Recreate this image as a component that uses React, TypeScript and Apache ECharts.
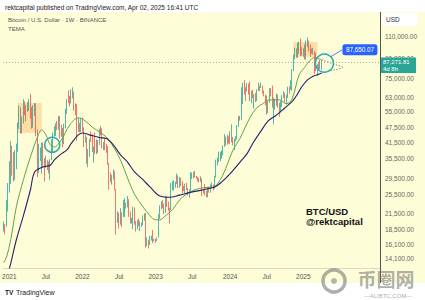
import React, { useEffect, useRef } from 'react';
import * as echarts from 'echarts';

// ---------- data ----------
const START_DATE = '2020-11-30'; // first weekly candle (Monday)
const TOTAL_WEEKS = 268; // weeks shown on the time scale (incl. empty future space)
const FIRST_OPEN = 18185;

const closes = [
  19370, 19150, 23780, 26280, 33000, 38150, 35830, 32260, 34260, 39250,
  48580, 57410, 45240, 50970, 59020, 57350, 55820, 59770, 60000, 56150,
  49070, 56620, 58240, 46420, 34660, 35650, 35800, 39100, 35500, 34700,
  35290, 34250, 31780, 35400, 39850, 44420, 47050, 49320, 48830, 49950,
  48300, 47260, 43170, 48200, 54960, 61530, 61310, 61300, 64950, 65500,
  59720, 57270, 49400, 50100, 46700, 50800, 47290, 41860, 43080, 36280,
  38470, 42410, 42200, 38360, 39110, 38730, 37780, 41260, 46830, 46410,
  40380, 40380, 39450, 37630, 34280, 30080, 29440, 29450, 29860, 26570,
  20570, 21030, 19300, 20830, 20780, 22580, 23300, 23170, 24310, 21530,
  19560, 19830, 21830, 19420, 18800, 19310, 19070, 19070, 19570, 20630,
  20910, 16330, 16700, 16460, 17100, 17100, 16780, 16840, 16620, 17130,
  20880, 22700, 23750, 23320, 21860, 24640, 23560, 22160, 22140, 27950,
  27980, 28170, 28320, 30300, 27590, 29230, 28850, 26910, 26750, 28080,
  27120, 25870, 26340, 30460, 30590, 30170, 30230, 29860, 29230, 29050,
  29300, 26100, 26010, 25840, 25830, 26530, 26250, 27920, 27930, 26850,
  29990, 34530, 35010, 37060, 37360, 37450, 39970, 43790, 41370, 42990,
  42280, 41730, 41740, 41580, 42030, 42990, 48300, 52140, 51730, 68330,
  68960, 68390, 67210, 69650, 69360, 63900, 64940, 63120, 63890, 61480,
  66940, 68510, 67760, 69650, 66200, 64250, 62680, 55860, 60800, 68250,
  68240, 58160, 58710, 58970, 64220, 57300, 54870, 59130, 63580, 65600,
  62820, 62850, 69030, 68020, 68780, 80370, 89850, 97900, 97190, 101110,
  104460, 95190, 93720, 98360, 94500, 104250, 104710, 97690, 96460, 96120,
  96260, 94270, 80730, 82570, 86080, 82390, 87270,
];
const highs = [
  19915, 19420, 24300, 28400, 34800, 41950, 40100, 37850, 38530, 40950,
  49700, 58350, 57530, 52640, 61790, 60600, 58400, 60200, 61950, 64850,
  57500, 58450, 59600, 59500, 46660, 40900, 39480, 41300, 41400, 35750,
  36600, 35100, 34700, 35400, 42600, 45310, 48150, 49380, 50500, 52920,
  52850, 48850, 47360, 49260, 56560, 62000, 67000, 63730, 67790, 69000,
  66300, 59400, 59060, 51950, 49500, 51900, 52090, 47570, 44460, 43510,
  38920, 42650, 45860, 44770, 39850, 45400, 42600, 42330, 47000, 48190,
  47200, 41560, 42980, 40800, 40020, 34250, 31330, 30650, 32220, 31700,
  26880, 21870, 21530, 22500, 21660, 24280, 24670, 23650, 25210, 24450,
  21820, 20570, 22800, 22670, 19960, 20190, 20480, 19950, 19700, 21090,
  21480, 21470, 17190, 16810, 17420, 17440, 18390, 16960, 16960, 17180,
  21260, 23080, 23960, 24250, 23460, 25250, 25130, 23890, 22600, 28390,
  28870, 29180, 28780, 31000, 30480, 30040, 29800, 28870, 27660, 28250,
  28450, 27130, 26800, 31430, 31280, 31500, 31800, 30330, 30050, 29750,
  30250, 29690, 26830, 28140, 26430, 27480, 27480, 28050, 28580, 28000,
  30400, 35280, 35980, 37980, 37980, 38420, 40250, 44700, 43730, 44400,
  43800, 45900, 48970, 43560, 42840, 43880, 48590, 52820, 52980, 69000,
  72000, 73780, 68950, 71770, 71340, 72800, 66870, 67230, 64730, 65490,
  67700, 71980, 70000, 71990, 70200, 66950, 64500, 63860, 61000, 68370,
  68500, 70080, 62730, 61820, 65050, 64480, 59810, 60670, 64130, 66500,
  65550, 64480, 69400, 69520, 73620, 81500, 93270, 99590, 98870, 104090,
  105250, 108350, 99960, 99000, 102730, 106420, 109590, 106460, 102500, 98830,
  99480, 96500, 95000, 85310, 87450, 88770, 88500,
];
const lows = [
  18110, 17650, 19000, 21800, 26000, 28130, 30420, 28850, 29240, 32300,
  37990, 47000, 44890, 45000, 49300, 53270, 50310, 54950, 55470, 51540,
  47000, 47460, 52900, 43830, 30000, 31200, 34800, 31000, 33340, 28800,
  32700, 32080, 31020, 29280, 35200, 37640, 43700, 43950, 46370, 46500,
  42840, 43600, 39600, 40750, 47100, 53880, 59560, 57820, 59400, 62280,
  55600, 53260, 42000, 45560, 45500, 45560, 45680, 39650, 41240, 34000,
  32920, 36250, 41650, 37860, 34320, 37160, 37150, 37550, 40470, 44200,
  39200, 38540, 38540, 37580, 33710, 26700, 28630, 28020, 29300, 26560,
  17620, 19640, 18630, 19300, 18910, 20760, 20710, 22410, 22660, 20760,
  19520, 19520, 18540, 19320, 18130, 18470, 19050, 18190, 18920, 19240,
  20040, 15590, 15820, 15480, 16000, 16680, 16260, 16560, 16330, 16600,
  17150, 20410, 22290, 22540, 21350, 21530, 22760, 21970, 19550, 22100,
  26600, 26520, 27200, 28170, 27130, 27210, 27660, 25810, 26380, 25870,
  26600, 25350, 24800, 26250, 29500, 29700, 29950, 29550, 28860, 28580,
  28700, 25170, 25800, 25330, 24900, 24900, 26010, 25990, 27160, 26540,
  26960, 29880, 33390, 34520, 34800, 35630, 36700, 39740, 40200, 40550,
  40990, 40750, 41500, 40280, 38560, 41870, 42550, 47720, 50600, 50900,
  59000, 64540, 60760, 66410, 64490, 60660, 59600, 62390, 56550, 60190,
  60750, 66600, 66620, 68500, 65080, 63380, 58400, 53500, 54260, 59900,
  63450, 57120, 49000, 56080, 58200, 57200, 52550, 54560, 57500, 62650,
  59830, 58950, 62450, 65060, 67480, 66830, 80220, 89380, 90790, 90500,
  94150, 92170, 92510, 91530, 89260, 89130, 100100, 96150, 91230, 94090,
  93390, 78260, 80000, 76600, 81140, 81600, 81280,
];

// price-axis tick labels
const yTicks = [14100, 16100, 18500, 21500, 25500, 29500, 35500, 41500, 47500, 55000, 63000, 75000, 90000, 110000];
const Y_MIN = 12930;
const Y_MAX = 138600;

// TEMA lines: [week index, price]
const fastLine = [
  [0, 13600], [2, 14300], [5, 16800], [9, 22800], [14, 29300], [19, 36200], [24, 43500], [27, 46500],
  [30, 44400], [33, 40500], [36, 39700], [41, 42400], [47, 48700], [53, 52000], [57, 51000],
  [63, 47700], [68, 45600], [73, 43500], [78, 39700], [83, 35200], [88, 29800], [93, 25600],
  [99, 22800], [104, 21000], [108, 20200], [111, 20200], [115, 21000], [120, 22200], [125, 24300],
  [130, 25600], [136, 26700], [142, 27200], [149, 27400], [154, 29300], [159, 33800], [163, 38600],
  [168, 43000], [175, 52000], [180, 57100], [184, 59200], [189, 61400], [196, 61400], [201, 59200],
  [205, 62000], [210, 77400], [214, 83000], [218, 88900], [221, 90800], [226, 88900],
];
const slowLine = [
  [3, 12300], [5, 13500], [9, 16800], [14, 21000], [19, 26700], [22, 31500], [28, 33000], [33, 33500],
  [36, 35200], [40, 36900], [45, 38600], [48, 41000], [53, 44400], [56, 45200], [61, 44400],
  [68, 43300], [73, 42900], [78, 40400], [83, 36900], [88, 34500], [93, 31500], [99, 29300],
  [104, 27400], [111, 25200], [118, 24900], [125, 25400], [132, 26000], [142, 26700], [150, 27400],
  [155, 28700], [161, 31000], [168, 34500], [173, 37300], [177, 41000], [182, 45200], [188, 50500],
  [193, 52900], [198, 55800], [203, 59000], [206, 61400], [209, 65000], [212, 69500], [216, 73900],
  [220, 76500], [223, 77500], [226, 78800],
];
const fastProjection = [[226, 88900], [241, 83300]];
const slowProjection = [[226, 78800], [241, 82500]];

// annotations: [startWeek, topPrice, endWeek, bottomPrice]
const highlightBoxes = [
  [10, 59700, 27, 45200],
  [206, 104900, 223, 91500],
];
// circles: [week, price, radius px]
const circles = [
  [34.5, 40500, 7.5],
  [228, 86300, 9],
];
const LAST_PRICE = 87271.81;
const COUNTDOWN = '4d 8h';
const CALLOUT_TEXT = '87,650.07';
const LAST_INDEX = closes.length - 1;

// ---------- helpers ----------
const FONT = 'Liberation Sans, Arial, sans-serif';
const lg = (p: number) => Math.log10(p);
const fmtPrice = (p: number) =>
  p.toLocaleString('en-US', { minimumFractionDigits: 2, maximumFractionDigits: 2 });

const weekDate = (i: number) => {
  const d = new Date(START_DATE + 'T00:00:00Z');
  d.setUTCDate(d.getUTCDate() + 7 * i);
  return d;
};
const categories = Array.from({ length: TOTAL_WEEKS }, (_, i) => weekDate(i).toISOString().slice(0, 10));

const labelFor = (i: number) => {
  if (i > LAST_INDEX) return '';
  const d = weekDate(i);
  for (let k = 0; k < 7; k++) {
    const dd = new Date(d.getTime() + k * 86400000);
    if (dd.getUTCDate() === 1 && dd.getUTCMonth() === 0) return String(dd.getUTCFullYear());
    if (dd.getUTCDate() === 1 && dd.getUTCMonth() === 6) return 'Jul';
  }
  return '';
};

export default function App() {
  const ref = useRef<HTMLDivElement>(null);

  useEffect(() => {
    const el = ref.current;
    if (!el) return;
    const chart = echarts.init(el, null, { renderer: 'svg' });

    const candleData = closes.map((c, i) => {
      const o = i === 0 ? FIRST_OPEN : closes[i - 1];
      return [lg(o), lg(c), lg(lows[i]), lg(highs[i])];
    });

    const option: any = {
      animation: false,
      backgroundColor: 'transparent',
      grid: { left: 3, right: 45, top: 12, bottom: 32, containLabel: false, outerBoundsMode: 'none' },
      xAxis: {
        type: 'category',
        data: categories,
        boundaryGap: true,
        axisLine: { show: true, lineStyle: { color: '#d9d9c6', width: 1 } },
        axisTick: { show: false },
        splitLine: { show: false },
        axisLabel: {
          interval: (index: number) => labelFor(index) !== '',
          formatter: (_v: string, index: number) => labelFor(index),
          fontSize: 6.5,
          color: '#555',
          fontFamily: FONT,
          margin: 5,
          hideOverlap: false,
        },
      },
      yAxis: {
        type: 'value',
        position: 'right',
        min: lg(Y_MIN),
        max: lg(Y_MAX),
        scale: true,
        axisLine: { show: false },
        axisTick: { show: false },
        splitLine: { show: false },
        axisLabel: {
          customValues: yTicks.map(lg),
          formatter: (v: number) => fmtPrice(Math.round(Math.pow(10, v))),
          fontSize: 6.5,
          color: '#666',
          fontFamily: FONT,
          margin: 5,
        },
      },
      series: [
        {
          type: 'candlestick',
          data: candleData,
          barWidth: 1,
          itemStyle: {
            color: '#26a69a',
            color0: '#ef5350',
            borderColor: '#26a69a',
            borderColor0: '#ef5350',
            borderWidth: 0.8,
          },
          markLine: {
            silent: true,
            symbol: ['none', 'none'],
            label: { show: false },
            lineStyle: { color: '#9a9a9a', type: [1, 2], width: 0.8 },
            data: [{ yAxis: lg(LAST_PRICE) }],
          },
          markArea: {
            silent: true,
            itemStyle: { color: 'rgba(248,186,104,0.45)' },
            data: highlightBoxes.map(([x1, p1, x2, p2]) => [
              { xAxis: x1, yAxis: lg(p1) },
              { xAxis: x2, yAxis: lg(p2) },
            ]),
          },
          z: 2,
        },
        {
          type: 'line',
          data: fastLine.map(([i, p]) => [i, lg(p)]),
          showSymbol: false,
          smooth: 0.35,
          lineStyle: { color: '#62a34b', width: 1 },
          z: 3,
        },
        {
          type: 'line',
          data: slowLine.map(([i, p]) => [i, lg(p)]),
          showSymbol: false,
          smooth: 0.35,
          lineStyle: { color: '#2b1d6e', width: 1.1 },
          z: 3,
        },
        {
          type: 'line',
          data: fastProjection.map(([i, p]) => [i, lg(p)]),
          showSymbol: false,
          lineStyle: { color: '#8a8a8a', width: 1, type: [1.5, 1.5] },
          z: 3,
        },
        {
          type: 'line',
          data: slowProjection.map(([i, p]) => [i, lg(p)]),
          showSymbol: false,
          lineStyle: { color: '#8a8a8a', width: 1, type: [1.5, 1.5] },
          z: 3,
        },
      ],
    };
    chart.setOption(option);

    const toPx = (i: number, price: number) => {
      const i0 = Math.floor(i);
      const f = i - i0;
      const a = chart.convertToPixel({ gridIndex: 0 }, [i0, lg(price)]) as number[];
      if (f === 0) return a;
      const b = chart.convertToPixel({ gridIndex: 0 }, [i0 + 1, lg(price)]) as number[];
      return [a[0] + (b[0] - a[0]) * f, a[1]];
    };

    const g: any[] = [];
    const txt = (text: string, x: number, y: number, size: number, fill: string, extra: any = {}) => ({
      type: 'text',
      x,
      y,
      z: 100,
      style: { text, fill, fontSize: size, fontFamily: FONT, verticalAlign: 'middle', align: 'left', ...extra },
    });

    // header & legend
    g.push(txt('rektcapital published on TradingView.com, Apr 02, 2025 16:41 UTC', 5, 7, 6.5, '#222'));
    g.push(txt('Bitcoin / U.S. Dollar · 1W · BINANCE', 8, 20, 6, '#555'));
    g.push(txt('TEMA', 8, 29, 6, '#555'));

    // price axis separator and USD box
    g.push({ type: 'line', z: 100, shape: { x1: 380.5, y1: 12, x2: 380.5, y2: 283 }, style: { stroke: '#555', lineWidth: 1 } });
    g.push({ type: 'rect', z: 100, shape: { x: 382, y: 13, width: 36, height: 13, r: 2 }, style: { fill: '#ffffff' } });
    g.push(txt('USD', 386, 19.5, 6.5, '#333'));

    // current price label on the axis
    const py = (chart.convertToPixel({ yAxisIndex: 0 }, lg(LAST_PRICE)) as number);
    g.push({ type: 'rect', z: 101, shape: { x: 381, y: py - 4.5, width: 35, height: 15.5 }, style: { fill: '#2aa596' } });
    g.push({ ...txt(fmtPrice(LAST_PRICE), 383, py + 0.5, 6, '#fff'), z: 102 });
    g.push({ ...txt(COUNTDOWN, 383, py + 7, 6, '#fff'), z: 102 });

    // circles
    circles.forEach(([i, p, r]) => {
      const [cx, cy] = toPx(i, p);
      g.push({ type: 'circle', z: 100, shape: { cx, cy, r }, style: { fill: 'none', stroke: '#2aa8b8', lineWidth: 1.5 } });
    });

    // callout label linked to the 2nd circle
    const [c2x, c2y] = toPx(circles[1][0], circles[1][1]);
    const lx = c2x + 18;
    const ly = c2y - 19;
    g.push({ type: 'line', z: 100, shape: { x1: c2x + 6.5, y1: c2y - 6.5, x2: lx, y2: ly + 5.5 }, style: { stroke: '#2962ff', lineWidth: 0.8 } });
    g.push({ type: 'rect', z: 101, shape: { x: lx, y: ly, width: 35, height: 11, r: 2.5 }, style: { fill: '#2962ff' } });
    g.push({ ...txt(CALLOUT_TEXT, lx + 17.5, ly + 5.7, 6.3, '#fff', { align: 'center' }), z: 102 });

    // signature
    g.push(txt('BTC/USD', 306, 211, 9.5, '#111', { fontWeight: 'bold' }));
    g.push(txt('@rektcapital', 306, 221, 9.5, '#111', { fontWeight: 'bold' }));

    // watermark
    g.push({ type: 'circle', z: 100, shape: { cx: 334, cy: 281, r: 11 }, style: { fill: 'none', stroke: 'rgba(110,110,110,0.55)', lineWidth: 3.5 } });
    g.push({ type: 'circle', z: 100, shape: { cx: 334, cy: 281, r: 3 }, style: { fill: 'rgba(110,110,110,0.5)' } });
    g.push({
      type: 'text', z: 100, x: 386, y: 278,
      style: { text: '币圈网', fill: 'rgba(110,110,110,0.55)', fontSize: 19, fontWeight: 'bold', fontFamily: 'Noto Sans CJK SC', align: 'center', verticalAlign: 'middle' },
    });
    g.push({
      type: 'text', z: 100, x: 388, y: 296,
      style: { text: '—ALIBTC.COM—', fill: 'rgba(110,110,110,0.6)', fontSize: 6, fontFamily: FONT, align: 'center', verticalAlign: 'middle' },
    });

    // TradingView footer
    g.push(txt('TV', 5, 292, 6.5, '#222', { fontWeight: 'bold' }));
    g.push(txt('TradingView', 16, 292, 7, '#222'));

    chart.setOption({ graphic: g });

    return () => chart.dispose();
  }, []);

  return (
    <div
      ref={ref}
      style={{
        position: 'fixed',
        left: 0,
        top: 0,
        width: 425,
        height: 300,
        background: 'linear-gradient(to bottom, #ffffff 0px, #ffffff 12px, #fdfdd8 12px, #fdfdd8 283px, #ffffff 283px)',
      }}
    />
  );
}
